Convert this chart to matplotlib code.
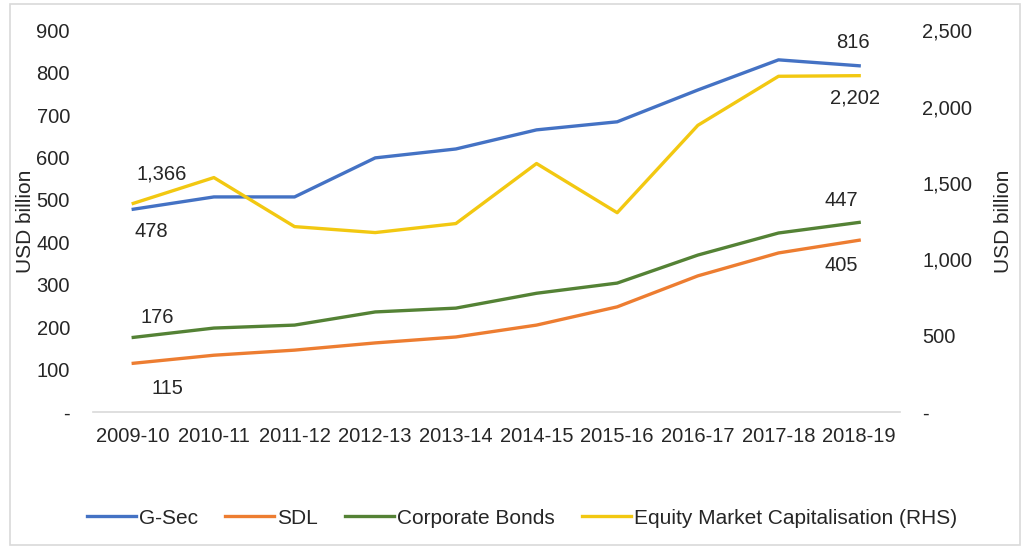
import matplotlib
matplotlib.use("Agg")
import matplotlib.pyplot as plt
from matplotlib.patches import Rectangle
from matplotlib.ticker import FuncFormatter

plt.rcParams['font.family'] = ['Liberation Sans', 'DejaVu Sans']

years = ["2009-10", "2010-11", "2011-12", "2012-13", "2013-14",
         "2014-15", "2015-16", "2016-17", "2017-18", "2018-19"]
gsec = [478, 507, 507, 599, 620, 665, 684, 759, 830, 816]
sdl = [115, 134, 146, 163, 177, 205, 248, 321, 375, 405]
corp = [176, 198, 205, 236, 245, 280, 304, 370, 422, 447]
equity = [1366, 1535, 1214, 1175, 1234, 1627, 1305, 1877, 2198, 2202]

C_GSEC = "#4472C4"
C_SDL = "#ED7D31"
C_CORP = "#548235"
C_EQ = "#F2C811"
TXT = "#262626"
FS = 14.5

fig = plt.figure(figsize=(10.21, 5.48), dpi=100)
fig.patches.append(Rectangle((10 / 1021, 1 - 545 / 548), 1010 / 1021, 541 / 548,
                             transform=fig.transFigure, fill=False,
                             edgecolor="#d9d9d9", linewidth=1.2))

ax = fig.add_axes([0.091, 0.248, 0.79, 0.697])
ax2 = ax.twinx()

x = range(len(years))
lw = 2.4
l1, = ax.plot(x, gsec, color=C_GSEC, lw=lw, label="G-Sec", zorder=3)
l2, = ax.plot(x, sdl, color=C_SDL, lw=lw, label="SDL", zorder=3)
l3, = ax.plot(x, corp, color=C_CORP, lw=lw, label="Corporate Bonds", zorder=3)
l4, = ax2.plot(x, equity, color=C_EQ, lw=lw, label="Equity Market Capitalisation (RHS)")

ax.set_ylim(0, 900)
ax2.set_ylim(0, 2500)
ax.set_xlim(-0.5, len(years) - 0.5)
ax.set_yticks(range(0, 901, 100))
ax2.set_yticks(range(0, 2501, 500))

fmt = FuncFormatter(lambda v, p: "-" if v == 0 else f"{int(v):,}")
ax.yaxis.set_major_formatter(fmt)
ax2.yaxis.set_major_formatter(fmt)

ax.set_xticks(list(x))
ax.set_xticklabels(years)

for a in (ax, ax2):
    for s in a.spines.values():
        s.set_visible(False)
    a.tick_params(length=0, labelsize=FS, colors=TXT)
ax.spines['bottom'].set_visible(True)
ax.spines['bottom'].set_color("#d9d9d9")
ax.spines['bottom'].set_linewidth(1.2)
ax.tick_params(axis='y', pad=16.5)
ax2.tick_params(axis='y', pad=16.5)
ax.tick_params(axis='x', pad=11)

ax.set_ylabel("USD billion", fontsize=15, color=TXT)
ax2.set_ylabel("USD billion", fontsize=15, color=TXT)
ax.yaxis.label.set_va('center')
ax2.yaxis.label.set_va('center')
ax.yaxis.set_label_coords(-0.083, 0.5)
ax2.yaxis.set_label_coords(1.129, 0.5)

def label(a, i, v, dx, dy):
    a.annotate(f"{v:,}", (i, v), xytext=(dx, dy), textcoords="offset pixels",
               ha="center", va="center", fontsize=FS, color=TXT)

last = len(years) - 1
label(ax2, 0, equity[0], 28, 29)
label(ax, 0, gsec[0], 18, -22)
label(ax, 0, corp[0], 24, 20)
label(ax, 0, sdl[0], 34, -25)
label(ax, last, gsec[last], -6, 23)
label(ax2, last, equity[last], -4, -22)
label(ax, last, corp[last], -18, 22)
label(ax, last, sdl[last], -18, -25)

fig.legend(handles=[l1, l2, l3, l4], loc="center", bbox_to_anchor=(0.511, 1 - 518 / 548),
           ncol=4, frameon=False, fontsize=15, handlelength=2.35, handletextpad=0.15,
           columnspacing=1.3, labelcolor=TXT)

fig.savefig("out.png", dpi=100)
